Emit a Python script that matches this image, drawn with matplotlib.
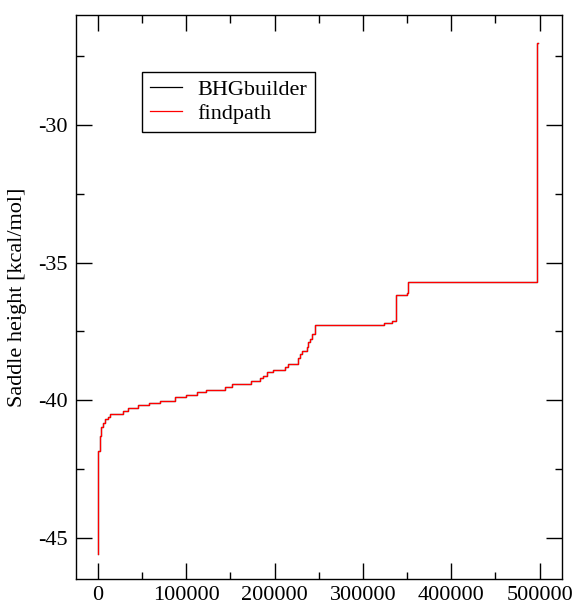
import matplotlib
matplotlib.use("Agg")
import matplotlib.pyplot as plt
from matplotlib.ticker import MultipleLocator

plt.rcParams['font.family'] = ['Liberation Serif', 'DejaVu Serif']
plt.rcParams['axes.unicode_minus'] = False

# sorted saddle heights, (index, height) at each step
step_x = [0, 200, 500, 700, 2100, 3700, 5900, 8600, 11200, 14000,
          29000, 33900, 45200, 58000, 70400, 87400, 99800, 111900, 122400,
          143900, 151800, 173000, 183500, 186500, 191000, 198500, 211700,
          215500, 226800, 228700, 230600, 236300, 238100, 240000, 241900,
          245700, 323700, 333500, 338000, 350000, 351100, 497000, 497500,
          498100]
step_y = [-45.60, -43.50, -42.30, -41.83, -41.29, -40.99, -40.83, -40.68,
          -40.60, -40.50, -40.41, -40.30, -40.18, -40.12, -40.02, -39.90,
          -39.80, -39.72, -39.62, -39.51, -39.41, -39.32, -39.19, -39.11,
          -38.99, -38.90, -38.81, -38.69, -38.45, -38.32, -38.20, -38.08,
          -37.90, -37.78, -37.60, -37.27, -37.20, -37.11, -36.18, -36.12,
          -35.69, -35.60, -27.00, -27.00]

series_names = ["BHGbuilder", "findpath"]
series_colors = ["black", "red"]

fig = plt.figure(figsize=(5.76, 6.06), dpi=100)
ax = fig.add_axes([0.1314, 0.0446, 0.8438, 0.9306])

for name, col in zip(series_names, series_colors):
    ax.plot(step_x, step_y, drawstyle='steps-post', color=col, lw=0.9, label=name)

ax.set_xlim(-25000, 525000)
ax.set_ylim(-46.5, -26)
ax.xaxis.set_major_locator(MultipleLocator(100000))
ax.xaxis.set_minor_locator(MultipleLocator(50000))
ax.yaxis.set_major_locator(MultipleLocator(5))
ax.yaxis.set_minor_locator(MultipleLocator(2.5))
ax.tick_params(which='both', direction='in', top=True, right=True, width=1.0, colors='black')
ax.tick_params(which='major', length=11.3, labelsize=16)
ax.tick_params(axis='y', which='major', pad=6)
ax.tick_params(axis='x', which='major', pad=5)
ax.tick_params(which='minor', length=5.4)
for s in ax.spines.values():
    s.set_linewidth(1.0)

ax.set_ylabel("Saddle height [kcal/mol]", fontsize=16, labelpad=8)

leg = ax.legend(loc='upper left', bbox_to_anchor=(0.136, 0.8995), borderaxespad=0,
                fontsize=16, fancybox=False, framealpha=1, edgecolor='black',
                handlelength=1.45, handletextpad=0.7, labelspacing=0.15,
                borderpad=0.35)
leg.get_frame().set_linewidth(1.0)

fig.savefig("out.png", dpi=100)
